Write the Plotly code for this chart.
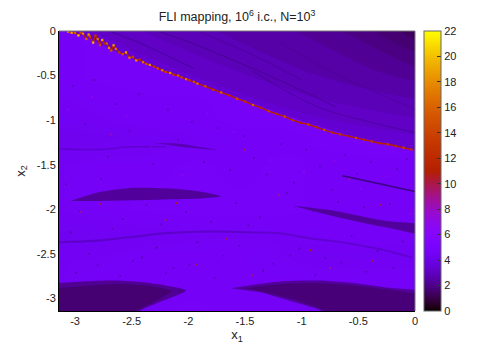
import math
import plotly.graph_objects as go

# chaotic sea, coarse read of the map (FLI value per cell)
x_grid = [-3.14, -2.75, -2.35, -1.95, -1.55, -1.15, -0.75, -0.35, 0.0]
y_grid = [0.0, -0.5, -1.0, -1.2, -1.5, -2.0, -2.3, -2.5, -2.8, -3.14]
sea_r0 = [4.6, 4.7, 4.6, 4.6, 4.6, 4.6, 4.6, 4.6, 4.6]
sea_r1 = [4.6, 4.7, 4.7, 4.7, 4.7, 4.7, 4.8, 4.8, 4.8]
sea_r2 = [4.4, 4.5, 4.6, 4.6, 4.7, 4.7, 4.8, 4.9, 4.9]
sea_r3 = [4.2, 4.3, 4.4, 4.5, 4.6, 4.6, 4.7, 4.8, 4.8]
sea_r4 = [4.5, 4.6, 4.6, 4.7, 4.6, 4.7, 4.6, 4.6, 4.6]
sea_r5 = [4.5, 4.6, 4.7, 4.7, 4.7, 4.7, 4.6, 4.6, 4.6]
sea_r6 = [4.3, 4.4, 4.4, 4.5, 4.5, 4.5, 4.6, 4.6, 4.6]
sea_r7 = [4.5, 4.5, 4.6, 4.6, 4.6, 4.5, 4.4, 4.4, 4.4]
sea_r8 = [4.5, 4.6, 4.6, 4.6, 4.6, 4.6, 4.6, 4.6, 4.6]
sea_r9 = [4.5, 4.6, 4.6, 4.7, 4.6, 4.6, 4.6, 4.6, 4.6]

# regular region above the ridge, one polygon per FLI level
level_values = [3.4, 3.1, 2.8, 2.5, 2.2, 1.9, 1.6, 1.3]
level_x = [
    [-3.08, -2.876, -2.637, -2.345, -2.053, -1.752, -1.46, -1.16, -0.858, -0.566, -0.274, 0.0],
    [-2.85, -2.4, -1.9, -1.4, -0.9, -0.4, 0.0],
    [-2.4, -1.9, -1.4, -0.9, -0.4, 0.0],
    [-1.75, -1.35, -0.9, -0.4, 0.0],
    [-1.05, -0.75, -0.4, 0.0],
    [-0.65, -0.4, -0.2, 0.0],
    [-0.36, -0.2, 0.0],
    [-0.13, -0.07, 0.0],
]
level_y = [
    [0.0, -0.08, -0.235, -0.38, -0.515, -0.66, -0.795, -0.94, -1.064, -1.176, -1.254, -1.333],
    [0.0, -0.27, -0.53, -0.76, -0.95, -1.08, -1.16],
    [0.0, -0.28, -0.53, -0.74, -0.88, -0.97],
    [0.0, -0.24, -0.48, -0.66, -0.76],
    [0.0, -0.2, -0.42, -0.56],
    [0.0, -0.16, -0.29, -0.4],
    [0.0, -0.12, -0.23],
    [0.0, -0.05, -0.09],
]

# high FLI ridge between the two regions
ridge_x = [-3.06, -3.03, -3.0, -2.97, -2.95, -2.93, -2.9, -2.88, -2.87, -2.84, -2.82, -2.8, -2.78, -2.76,
           -2.74, -2.72, -2.7, -2.68, -2.66, -2.64, -2.61, -2.58, -2.55, -2.52, -2.49, -2.46, -2.43, -2.4,
           -2.37, -2.34, -2.3, -2.27, -2.23, -2.2, -2.16, -2.13, -2.09, -2.06, -2.02, -1.99, -1.95, -1.92,
           -1.85, -1.78, -1.71, -1.64, -1.57, -1.5, -1.43, -1.36, -1.29, -1.22, -1.15, -1.08, -1.01, -0.94,
           -0.87, -0.8, -0.73, -0.66, -0.59, -0.52, -0.45, -0.38, -0.31, -0.24, -0.17, -0.1, -0.03]
ridge_y = [-0.01, -0.02, -0.02, -0.05, -0.02, -0.03, -0.09, -0.04, -0.06, -0.13, -0.05, -0.09, -0.16, -0.1,
           -0.14, -0.14, -0.19, -0.22, -0.16, -0.2, -0.24, -0.26, -0.24, -0.3, -0.29, -0.33, -0.32, -0.35,
           -0.37, -0.38, -0.4, -0.42, -0.44, -0.46, -0.47, -0.49, -0.5, -0.52, -0.54, -0.55, -0.57, -0.59,
           -0.62, -0.66, -0.69, -0.72, -0.76, -0.79, -0.83, -0.86, -0.9, -0.93, -0.96, -1.0, -1.03, -1.05,
           -1.08, -1.11, -1.14, -1.16, -1.18, -1.2, -1.22, -1.24, -1.26, -1.27, -1.29, -1.31, -1.33]
ridge_v = [17, 19, 16, 20, 14, 18, 16, 19, 15, 20, 13, 17, 14, 19, 12, 16, 18, 15, 19, 17, 13, 15, 19, 17,
           14, 18, 12, 17, 15, 18, 13, 15, 17, 14, 18, 13, 16, 14, 17, 13, 15, 17, 15, 13, 16, 12, 15, 13,
           16, 12, 14, 12, 15, 13, 11, 14, 12, 15, 12, 13, 11, 14, 12, 13, 11, 13, 12, 14, 12]

# stable islands: x, y, FLI value
top_lens_x = [-3.04, -2.79, -2.49, -2.2, -1.9, -1.71, -1.9, -2.2, -2.49, -2.79]
top_lens_y = [-1.907, -1.81, -1.76, -1.765, -1.8, -1.855, -1.88, -1.89, -1.9, -1.907]
thin_lens_x = [-2.3, -2.08, -1.755, -2.02]
thin_lens_y = [-1.258, -1.266, -1.333, -1.307]
right_lens_x = [-1.08, -0.714, -0.27, 0.2, 0.2, -0.27, -0.714]
right_lens_y = [-1.96, -2.016, -2.128, -2.2, -2.3, -2.2, -2.08]
left_isl_x = [-3.3, -2.935, -2.64, -2.4, -2.2, -2.02, -2.14, -2.29, -2.43, -2.55, -3.3]
left_isl_y = [-2.84, -2.81, -2.8, -2.82, -2.855, -2.91, -2.985, -3.06, -3.14, -3.3, -3.3]
left_core_x = [-3.3, -2.6, -2.3, -2.15, -2.25, -2.45, -2.6, -3.3]
left_core_y = [-2.9, -2.84, -2.87, -2.92, -3.0, -3.14, -3.3, -3.3]
right_isl_x = [-1.62, -1.36, -1.157, -0.86, -0.566, -0.27, 0.2, 0.2, -0.65, -0.82, -1.07, -1.36]
right_isl_y = [-2.885, -2.835, -2.807, -2.8, -2.825, -2.875, -2.97, -3.3, -3.3, -3.14, -3.04, -2.93]
right_core_x = [-1.5, -1.15, -0.85, -0.5, 0.2, 0.2, -0.65, -0.8, -1.05, -1.3]
right_core_y = [-2.885, -2.835, -2.83, -2.86, -3.03, -3.3, -3.3, -3.14, -3.02, -2.94]
island_values = [2.3, 2.7, 2.3, 2.2, 1.6, 2.3, 1.7]

# dark filaments
streak_a_x = [-3.14, -2.8, -2.5, -2.2, -1.8, -1.45]
streak_a_y = [-2.37, -2.35, -2.31, -2.27, -2.25, -2.26]
streak_b_x = [-1.45, -1.2, -0.9, -0.6, -0.3, -0.03]
streak_b_y = [-2.26, -2.27, -2.33, -2.38, -2.45, -2.54]
streak_c_x = [-0.64, 0.0]
streak_c_y = [-1.624, -1.8]
streak_d_x = [-3.14, -2.8, -2.5, -2.2]
streak_d_y = [-1.32, -1.33, -1.3, -1.3]
curve_a_x = [-2.68, -2.4, -2.15, -1.95]
curve_a_y = [-0.01, -0.15, -0.3, -0.42]
curve_b_x = [-2.25, -2.0, -1.6, -1.2, -0.7]
curve_b_y = [-0.01, -0.12, -0.33, -0.55, -0.85]
curve_c_x = [-1.9, -1.6, -1.3, -1.0]
curve_c_y = [-0.01, -0.17, -0.35, -0.55]
curve_d_x = [-1.43, -1.1, -0.8, -0.4, 0.0]
curve_d_y = [-0.45, -0.7, -0.88, -1.02, -1.14]
curve_e_x = [-1.2, -0.85, -0.5, 0.0]
curve_e_y = [-0.12, -0.38, -0.6, -0.88]

# isolated cells that stand out of the sea
speck_x = [-3.02, -2.91, -2.83, -2.71, -2.64, -2.52, -2.44, -2.31, -2.18, -2.09, -1.97, -1.86, -1.74, -1.63, -1.51,
           -1.42, -1.31, -1.18, -1.07, -0.96, -0.84, -0.73, -0.62, -0.51, -0.39, -0.28, -0.16, -0.07,
           -3.08, -2.96, -2.77, -2.58, -2.37, -2.24, -2.02, -1.8, -1.58, -1.37, -1.13, -0.9, -0.68, -0.45, -0.22,
           -3.04, -2.88, -2.67, -2.49, -2.28, -2.13, -1.92, -1.69, -1.47, -1.25, -1.02, -0.79, -0.56, -0.33, -0.11,
           -2.99, -2.8, -2.6, -2.41, -2.2, -1.99, -1.77, -1.55, -1.34, -1.1, -0.88, -0.65, -0.43, -0.19,
           -3.06, -2.85, -2.55, -2.33, -2.05, -1.83, -1.6, -1.28, -0.98, -0.71, -0.48, -0.25, -0.04,
           -2.78, -2.1, -1.93, -1.44, -0.92, -0.58, -0.3, -2.68, -1.66, -1.2, -0.37, -2.95, -2.2, -1.5, -0.75]
speck_y = [-0.62, -1.04, -0.55, -1.41, -0.82, -1.12, -0.71, -1.49, -0.88, -1.22, -1.02, -1.47, -1.09, -1.56, -1.18,
           -1.42, -1.61, -1.27, -1.7, -1.33, -1.52, -1.78, -1.39, -1.6, -1.47, -1.72, -1.55, -1.44,
           -1.72, -2.02, -1.66, -2.11, -1.95, -2.17, -2.03, -2.14, -1.93, -2.09, -1.82, -2.02, -1.92, -1.98, -1.94,
           -2.26, -2.5, -2.22, -2.58, -2.43, -2.66, -2.37, -2.52, -2.18, -2.61, -2.44, -2.55, -2.3, -2.47, -2.36,
           -2.71, -2.63, -2.75, -2.54, -2.72, -2.62, -2.77, -2.41, -2.69, -2.52, -2.74, -2.6, -2.7, -2.66,
           -0.88, -0.74, -0.95, -1.3, -1.62, -0.93, -1.13, -1.45, -1.58, -1.46, -1.77, -1.63, -2.05,
           -1.94, -1.93, -2.62, -2.74, -2.46, -1.66, -1.95, -1.16, -2.33, -1.84, -2.58, -2.03, -2.12, -1.33, -2.66]
speck_v = [3, 3, 3, 3, 3, 3, 3, 3, 3, 3, 3, 3, 3, 3, 3, 3, 3, 3, 3, 3, 3, 3, 3, 3, 3, 3, 3, 3,
           3, 3, 3, 3, 3, 3, 3, 3, 3, 3, 3, 3, 3, 3, 3,
           2.5, 3, 3, 3, 2.5, 3, 2.5, 3, 3, 3, 2.5, 3, 3, 2.5, 3,
           3, 3, 3, 2.5, 3, 3, 3, 3, 2.5, 3, 3, 3, 3, 3,
           7, 7, 7, 7, 7, 7, 7, 7, 7, 7, 7, 7, 7,
           10, 11, 10, 10, 11, 9, 10, 9, 10, 9, 10, 9, 10, 10, 9]

x_ticks = [-3, -2.5, -2, -1.5, -1, -0.5, 0]
y_ticks = [0, -0.5, -1, -1.5, -2, -2.5, -3]
bar_ticks = [0, 2, 4, 6, 8, 10, 12, 14, 16, 18, 20, 22]

ZMAX = 22
FONT = "Liberation Sans"


# gnuplot default pm3d palette (rgbformulae 7,5,15)
def palette(t):
    r = math.sqrt(t)
    g = t ** 3
    b = max(math.sin(2 * math.pi * t), 0)
    return "rgb({},{},{})".format(round(r * 255), round(g * 255), round(b * 255))


def poly(xs, ys, value):
    return go.Scatter(x=xs, y=ys, mode="lines", fill="toself",
                      line=dict(width=0, shape="spline", smoothing=0.7),
                      fillcolor=palette(value / ZMAX), hoverinfo="skip", showlegend=False)


def streak(xs, ys, width, alpha):
    return go.Scatter(x=xs, y=ys, mode="lines",
                      line=dict(color="rgba(45,0,100,{})".format(alpha), width=width, shape="spline"),
                      hoverinfo="skip", showlegend=False)


scale = [[i / 100, palette(i / 100)] for i in range(101)]

fig = go.Figure()
fig.add_trace(go.Heatmap(
    x=x_grid, y=y_grid,
    z=[sea_r0, sea_r1, sea_r2, sea_r3, sea_r4, sea_r5, sea_r6, sea_r7, sea_r8, sea_r9],
    coloraxis="coloraxis", zsmooth="best",
))
fig.add_trace(go.Scatter(
    x=speck_x, y=speck_y, mode="markers",
    marker=dict(color=speck_v, coloraxis="coloraxis", size=1.8, symbol="square", line=dict(width=0)),
    hoverinfo="skip", showlegend=False,
))

for value, xs, ys in zip(level_values, level_x, level_y):
    # closed round the top right corner, outside the frame so the spline stays clipped
    fig.add_trace(poly(xs + [0.3, 0.3, xs[0]], ys + [ys[-1], 0.3, 0.3], value))

islands = [
    (top_lens_x, top_lens_y), (thin_lens_x, thin_lens_y), (right_lens_x, right_lens_y),
    (left_isl_x, left_isl_y), (left_core_x, left_core_y), (right_isl_x, right_isl_y), (right_core_x, right_core_y),
]
for (xs, ys), value in zip(islands, island_values):
    fig.add_trace(poly(xs, ys, value))

fig.add_trace(streak(streak_a_x, streak_a_y, 2, 0.3))
fig.add_trace(streak(streak_b_x, streak_b_y, 2, 0.25))
fig.add_trace(streak(streak_c_x, streak_c_y, 1.5, 0.8))
fig.add_trace(streak(streak_d_x, streak_d_y, 1.5, 0.25))
fig.add_trace(streak(curve_a_x, curve_a_y, 1, 0.45))
fig.add_trace(streak(curve_b_x, curve_b_y, 1, 0.4))
fig.add_trace(streak(curve_c_x, curve_c_y, 1, 0.3))
fig.add_trace(streak(curve_d_x, curve_d_y, 1, 0.35))
fig.add_trace(streak(curve_e_x, curve_e_y, 1, 0.2))

fig.add_trace(go.Scatter(
    x=ridge_x, y=ridge_y, mode="lines",
    line=dict(color=palette(11 / ZMAX), width=1.5),
    hoverinfo="skip", showlegend=False,
))
fig.add_trace(go.Scatter(
    x=ridge_x, y=ridge_y, mode="markers",
    marker=dict(color=ridge_v, coloraxis="coloraxis", size=2.2, symbol="square", line=dict(width=0)),
    hoverinfo="skip", showlegend=False,
))

# the page body adds 8px around the figure, sizes below take that off
fig.update_layout(
    width=494, height=344,
    margin=dict(l=51, r=87, t=23, b=41),
    paper_bgcolor="white", plot_bgcolor="white",
    font=dict(family=FONT, size=11, color="#222222"),
    title=dict(text="FLI mapping, 10<sup>6</sup> i.c., N=10<sup>3</sup>", x=229 / 494, xanchor="center",
               y=0.974, yanchor="middle", font=dict(size=12.5, family=FONT)),
    coloraxis=dict(
        cmin=0, cmax=ZMAX, colorscale=scale,
        colorbar=dict(thickness=17, thicknessmode="pixels", len=1, lenmode="fraction", x=1.024, xanchor="left",
                      y=0.5, yanchor="middle", xpad=0, ypad=0, tickvals=bar_ticks, ticks="inside", ticklen=4,
                      tickcolor="#333333", outlinecolor="#666666", outlinewidth=1, tickprefix="\u00a0",
                      tickfont=dict(size=11, family=FONT)),
    ),
    xaxis=dict(range=[-math.pi, 0], tickvals=x_ticks, ticktext=[str(v) for v in x_ticks], ticks="",
               showgrid=False, zeroline=False, showline=True, linecolor="black", linewidth=1,
               title=dict(text="x<sub>1</sub>", standoff=0, font=dict(size=13))),
    yaxis=dict(range=[-math.pi, 0], tickvals=y_ticks, ticktext=[str(v) for v in y_ticks], ticks="",
               showgrid=False, zeroline=False, showline=True, linecolor="black", linewidth=1,
               title=dict(text="x<sub>2</sub>", standoff=8, font=dict(size=13))),
)
# gnuplot frame is lighter along the top and right, and the bar ticks come from both sides
fig.add_shape(type="line", xref="x domain", yref="y domain", x0=0, x1=1, y0=1, y1=1, line=dict(color="#777777", width=1))
fig.add_shape(type="line", xref="x domain", yref="y domain", x0=1, x1=1, y0=0, y1=1, line=dict(color="#777777", width=1))
for tick in bar_ticks[1:-1]:
    fig.add_shape(type="line", xref="paper", yref="paper", x0=1.073, x1=1.062, y0=tick / ZMAX, y1=tick / ZMAX,
                  line=dict(color="#333333", width=1))
fig.write_html("out.html")
